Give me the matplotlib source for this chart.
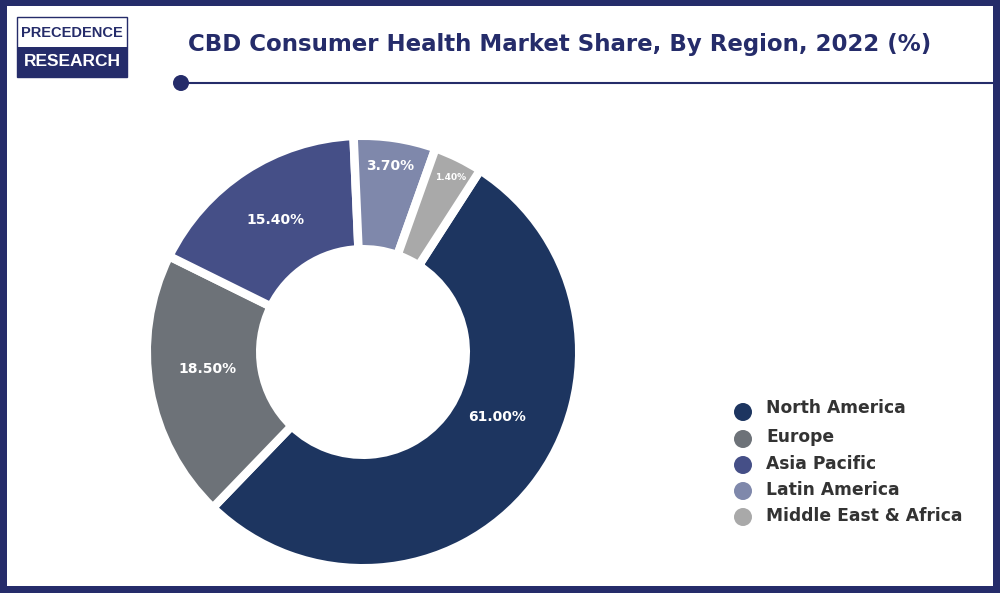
import matplotlib
matplotlib.use("Agg")
import matplotlib.pyplot as plt
from matplotlib.patches import Rectangle, Circle

# Region names and the percentages printed on the chart
regions = ["North America", "Europe", "Asia Pacific", "Latin America", "Middle East & Africa"]
printed_labels = ["61.00%", "18.50%", "15.40%", "3.70%", "1.40%"]
# Slice sizes as they appear in the picture (they differ from the printed percentages)
drawn_shares = [53.1, 20.1, 17.0, 6.14, 3.67]
colors = ["#1D3560", "#6D7278", "#454F87", "#7F88AB", "#A9A9A9"]
title = "CBD Consumer Health Market Share, By Region, 2022 (%)"

NAVY = "#252C6A"
W, H = 1000, 593
fig = plt.figure(figsize=(W / 100, H / 100), dpi=100, facecolor="white")
ax = fig.add_axes([0, 0, 1, 1])
FONT = "DejaVu Sans"
PX = 0.72  # points per pixel


def Y(p):
    return H - p


cx, cy, gap = 363, 352, 8.5
wedges, _ = ax.pie(
    drawn_shares, colors=colors, center=(cx, Y(cy)), radius=212 + gap / 2,
    startangle=90 - 32.8, counterclock=False,
    wedgeprops=dict(width=105 + gap, edgecolor="white", linewidth=gap * PX),
)
ax.set_xlim(0, W)
ax.set_ylim(0, H)
ax.set_aspect("auto")
ax.axis("off")

# Slice labels
label_pos = [(497, 417), (207, 369), (276, 220), (390, 166), (451, 177)]
label_size = [10, 10, 10, 10, 6.5]
for t, (x, y), s in zip(printed_labels, label_pos, label_size):
    ax.text(x, Y(y), t, color="white", fontsize=s, fontweight="bold", family=FONT,
            ha="center", va="center")

# Frame
for r in [(0, 0, W, 7), (0, H - 6, W, 6), (0, 0, 7, H), (W - 7, 0, 7, H)]:
    ax.add_patch(Rectangle(r[:2], r[2], r[3], fc=NAVY, ec="none", zorder=5))

# Logo
ax.add_patch(Rectangle((17, Y(77)), 110, 60, fc="white", ec=NAVY, lw=1, zorder=5))
ax.add_patch(Rectangle((17, Y(77)), 110, 30, fc=NAVY, ec="none", zorder=5))
ax.text(72, Y(33), "PRECEDENCE", color=NAVY, fontsize=10.5, fontweight="bold",
        family="Liberation Sans", ha="center", va="center", zorder=6)
ax.text(72, Y(62), "RESEARCH", color="white", fontsize=12.5, fontweight="bold",
        family="Liberation Sans", ha="center", va="center", zorder=6)

# Title and rule
ax.text(188, Y(44), title, color=NAVY, fontsize=16.5, fontweight="bold", family=FONT,
        ha="left", va="center")
ax.plot([181, W - 7], [Y(83), Y(83)], color=NAVY, lw=1.5, zorder=4)
ax.add_patch(Circle((181, Y(83)), 8, fc=NAVY, ec="none", zorder=5))

# Legend
dot_y = [412, 439, 465, 491, 517]
text_y = [408, 437, 464, 490, 516]
for name, c, dy, ty in zip(regions, colors, dot_y, text_y):
    ax.add_patch(Circle((743, Y(dy)), 9, fc=c, ec="none"))
    ax.text(766, Y(ty), name, color="#333333", fontsize=12.3, fontweight="bold", family=FONT,
            ha="left", va="center")

fig.savefig("out.png", dpi=100, facecolor="white")
